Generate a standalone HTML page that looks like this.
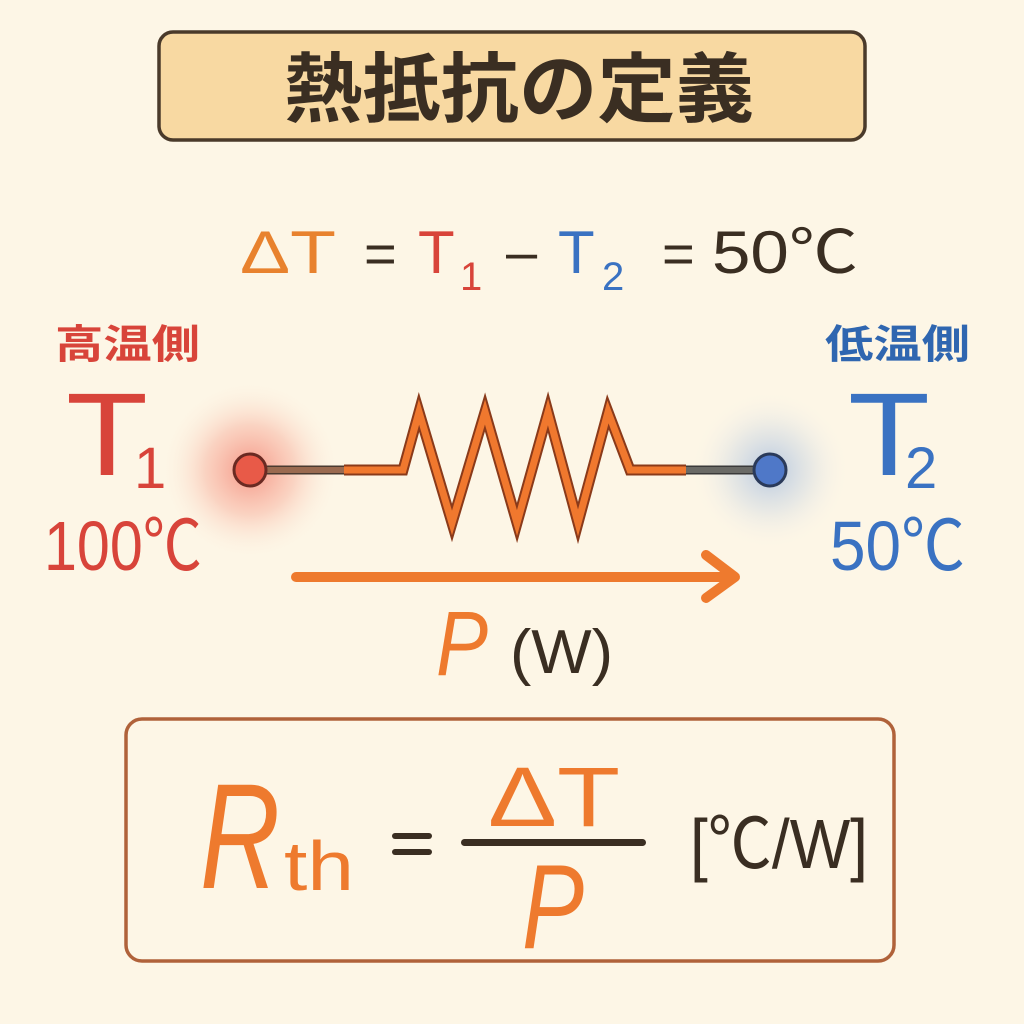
<!DOCTYPE html>
<html><head><meta charset="utf-8"><style>
html,body{margin:0;padding:0;background:#fdf6e6;}
svg{display:block;}
text{font-family:"Liberation Sans","Noto Sans CJK JP",sans-serif;}
</style></head><body>
<svg width="1024" height="1024" viewBox="0 0 1024 1024" xmlns="http://www.w3.org/2000/svg">
<defs>
<radialGradient id="gr"><stop offset="0" stop-color="#f04a3a" stop-opacity="0.55"/><stop offset="0.5" stop-color="#f26a55" stop-opacity="0.25"/><stop offset="1" stop-color="#fdf6e6" stop-opacity="0"/></radialGradient>
<radialGradient id="gb"><stop offset="0" stop-color="#5f8fd8" stop-opacity="0.45"/><stop offset="0.5" stop-color="#8fb0e0" stop-opacity="0.2"/><stop offset="1" stop-color="#fdf6e6" stop-opacity="0"/></radialGradient>
</defs>
<rect width="1024" height="1024" fill="#fdf6e6"/>
<!-- title -->
<rect x="159" y="32" width="706" height="108" rx="14" fill="#f8d9a2" stroke="#4a3a2a" stroke-width="3.5"/>
<text x="519" y="116" font-size="76" font-weight="bold" fill="#3a2e22" text-anchor="middle" textLength="470" lengthAdjust="spacingAndGlyphs">熱抵抗の定義</text>
<!-- delta T line -->
<text x="240" y="273" font-size="60" fill="#e8822e" textLength="96" lengthAdjust="spacingAndGlyphs">ΔT</text>
<text x="364" y="273" font-size="56" fill="#3a2e22">=</text>
<text x="418" y="273" font-size="60" fill="#d8443a">T</text>
<text x="460" y="290" font-size="40" fill="#d8443a">1</text>
<text x="506" y="271" font-size="56" fill="#3a2e22">–</text>
<text x="558" y="273" font-size="60" fill="#3a72c2">T</text>
<text x="602" y="290" font-size="40" fill="#3a72c2">2</text>
<text x="662" y="273" font-size="56" fill="#3a2e22">=</text>
<text x="712" y="273" font-size="60" fill="#3a2e22" textLength="146" lengthAdjust="spacingAndGlyphs">50℃</text>
<!-- glows -->
<circle cx="250" cy="470" r="90" fill="url(#gr)"/>
<circle cx="770" cy="470" r="80" fill="url(#gb)"/>
<!-- labels left -->
<text x="55" y="358" font-size="40" font-weight="bold" fill="#d8443a" textLength="145" lengthAdjust="spacingAndGlyphs">高温側</text>
<text x="66" y="475" font-size="118" fill="#d8443a" textLength="82" lengthAdjust="spacingAndGlyphs">T</text>
<text x="134" y="488" font-size="58" fill="#d8443a">1</text>
<text x="44" y="570" font-size="70" fill="#d8443a" textLength="158" lengthAdjust="spacingAndGlyphs">100℃</text>
<!-- labels right -->
<text x="825" y="358" font-size="40" font-weight="bold" fill="#2f66b0" textLength="145" lengthAdjust="spacingAndGlyphs">低温側</text>
<text x="848" y="475" font-size="118" fill="#3a72c2" textLength="82" lengthAdjust="spacingAndGlyphs">T</text>
<text x="905" y="488" font-size="58" fill="#3a72c2">2</text>
<text x="830" y="570" font-size="70" fill="#3a72c2" textLength="135" lengthAdjust="spacingAndGlyphs">50℃</text>
<!-- resistor -->
<line x1="260" y1="470" x2="345" y2="470" stroke="#4a3a30" stroke-width="9"/>
<line x1="262" y1="470" x2="344" y2="470" stroke="#9a6a50" stroke-width="6"/>
<line x1="685" y1="470" x2="760" y2="470" stroke="#3a3a3a" stroke-width="9"/>
<line x1="686" y1="470" x2="758" y2="470" stroke="#6a6a66" stroke-width="6"/>
<polyline points="344,470 403,470 419,412 452,523 485,412 517,523 548,412 578,523 608,412 630,470 686,470" fill="none" stroke="#8a3a1a" stroke-width="11" stroke-linejoin="miter"/>
<polyline points="344,470 403,470 419,412 452,523 485,412 517,523 548,412 578,523 608,412 630,470 686,470" fill="none" stroke="#f0782e" stroke-width="7" stroke-linejoin="miter"/>
<circle cx="250" cy="470" r="16" fill="#e85a48" stroke="#6a2a22" stroke-width="3"/>
<circle cx="770" cy="470" r="16" fill="#4f78c8" stroke="#2a3a5a" stroke-width="3"/>
<!-- arrow -->
<line x1="296" y1="577" x2="730" y2="577" stroke="#ee7a2e" stroke-width="10" stroke-linecap="round"/>
<polyline points="706,555 735,577 706,598" fill="none" stroke="#ee7a2e" stroke-width="10" stroke-linecap="round" stroke-linejoin="round"/>
<text x="436" y="675" font-size="92" font-style="italic" fill="#ee7a2e" textLength="52" lengthAdjust="spacingAndGlyphs">P</text>
<text x="510" y="673" font-size="62" fill="#3a2e22" textLength="103" lengthAdjust="spacingAndGlyphs">(W)</text>
<!-- formula box -->
<rect x="126" y="719" width="768" height="242" rx="16" fill="#fdf6e6" stroke="#b0623a" stroke-width="3.5"/>
<text x="200" y="888" font-size="150" font-style="italic" fill="#ee7a2e" textLength="80" lengthAdjust="spacingAndGlyphs">R</text>
<text x="284" y="890" font-size="70" fill="#ee7a2e" textLength="70" lengthAdjust="spacingAndGlyphs">th</text>
<rect x="392" y="833" width="40" height="6" rx="3" fill="#3a2e22"/>
<rect x="392" y="849" width="40" height="6" rx="3" fill="#3a2e22"/>
<rect x="461" y="839" width="185" height="7" rx="3.5" fill="#3a2e22"/>
<text x="488" y="826" font-size="84" fill="#ee7a2e" textLength="132" lengthAdjust="spacingAndGlyphs">ΔT</text>
<text x="522" y="948" font-size="120" font-style="italic" fill="#ee7a2e" textLength="62" lengthAdjust="spacingAndGlyphs">P</text>
<text x="690" y="868" font-size="70" fill="#3a2e22" textLength="178" lengthAdjust="spacingAndGlyphs">[℃/W]</text>
</svg>
</body></html>
